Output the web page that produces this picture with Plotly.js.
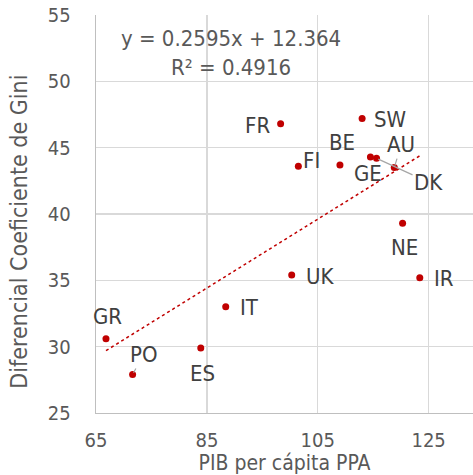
<!DOCTYPE html>
<html>
<head>
<meta charset="utf-8">
<script src="https://cdn.plot.ly/plotly-3.0.1.min.js"></script>
<style>html,body{margin:0;padding:0;background:#fff;}</style>
</head>
<body>
<div id="chart" style="width:473px;height:475px;"></div>
<script>
// ---- data ----
const countries = ['FR', 'SW', 'FI', 'BE', 'GE', 'DK', 'AU', 'NE', 'UK', 'IR', 'IT', 'GR', 'PO', 'ES'];
const pibPPA   = [98.3, 113.0, 101.5, 109.0, 114.5, 115.6, 118.8, 120.3, 100.3, 123.4, 88.4, 66.8, 71.6, 83.9];
const giniDiff = [46.8, 47.2, 43.6, 43.7, 44.3, 44.2, 43.5, 39.3, 35.4, 35.2, 33.0, 30.6, 27.9, 29.9];
const trendSlope = 0.2595;
const trendIntercept = 12.364;
const trendR2 = 0.4916;
const xTicks = [65, 85, 105, 125];
const yTicks = [25, 30, 35, 40, 45, 50, 55];
const xTitle = 'PIB per cápita PPA';
const yTitle = 'Diferencial Coeficiente de Gini';

// ---- label placement (pixel offsets from the point; styling only) ----
const labelPos = {
  FR: {dx: -23, dy: 2},  SW: {dx: 28, dy: 1},  FI: {dx: 13, dy: -6},
  BE: {dx: 2, dy: -22},  GE: {dx: -2, dy: 17}, DK: {dx: 52, dy: 24, leader: true},
  AU: {dx: 7, dy: -23, leader: true},          NE: {dx: 2, dy: 24},
  UK: {dx: 28, dy: 1},   IR: {dx: 24, dy: 1},  IT: {dx: 24, dy: 1},
  GR: {dx: 2, dy: -22},  PO: {dx: 11, dy: -20, leader: true}, ES: {dx: 2, dy: 26}
};

const FONT = 'DejaVu Sans Condensed, DejaVu Sans, sans-serif';
const RED = '#C00000';

const xMin = Math.min(...pibPPA), xMax = Math.max(...pibPPA);
const trendX = [xMin, xMax];
const trendY = trendX.map(v => trendSlope * v + trendIntercept);

const traces = [
  {
    x: trendX, y: trendY, type: 'scatter', mode: 'lines',
    line: {color: RED, width: 1.5, dash: 'dot'}, hoverinfo: 'skip'
  },
  {
    x: pibPPA, y: giniDiff, text: countries, type: 'scatter', mode: 'markers',
    marker: {color: RED, size: 7}
  }
];

const annotations = countries.map((c, i) => {
  const p = labelPos[c];
  const a = {
    x: pibPPA[i], y: giniDiff[i], xref: 'x', yref: 'y', text: c,
    font: {family: FONT, size: 22, color: '#404040'}
  };
  if (p.leader) {
    Object.assign(a, {showarrow: true, ax: p.dx, ay: p.dy, arrowhead: 0,
      arrowwidth: 1.2, arrowcolor: '#a6a6a6', standoff: 2, startstandoff: 0});
  } else {
    Object.assign(a, {showarrow: false, xshift: p.dx, yshift: -p.dy,
      xanchor: 'center', yanchor: 'middle'});
  }
  return a;
});

annotations.push({
  x: 89.4, y: 52.1, xref: 'x', yref: 'y', showarrow: false,
  text: 'y = ' + trendSlope + 'x + ' + trendIntercept + '<br>R² = ' + trendR2,
  font: {family: FONT, size: 22, color: '#595959'}, xanchor: 'center', yanchor: 'middle'
});

annotations.push({
  x: -0.205, y: 0.455, xref: 'paper', yref: 'paper', showarrow: false,
  text: yTitle, textangle: -90,
  font: {family: FONT, size: 23, color: '#595959'}, xanchor: 'center', yanchor: 'middle'
});

const layout = {
  width: 473, height: 475,
  margin: {l: 96, r: 0, t: 15, b: 62},
  paper_bgcolor: '#fff', plot_bgcolor: '#fff',
  showlegend: false,
  font: {family: FONT, color: '#595959'},
  xaxis: {
    range: [65, 133], tickvals: xTicks, ticktext: xTicks.map(String),
    showgrid: true, gridcolor: '#d9d9d9', gridwidth: 1.3,
    showline: true, linecolor: '#bfbfbf', linewidth: 1.3,
    zeroline: false, ticks: '', ticklabelstandoff: 9,
    tickfont: {family: FONT, size: 20, color: '#595959'},
    title: {text: xTitle, font: {family: FONT, size: 21, color: '#595959'}, standoff: 7}
  },
  yaxis: {
    range: [25, 55], tickvals: yTicks, ticktext: yTicks.map(String),
    showgrid: true, gridcolor: '#d9d9d9', gridwidth: 1.3,
    showline: true, linecolor: '#bfbfbf', linewidth: 1.3,
    zeroline: false, ticks: '', ticklabelstandoff: 20,
    tickfont: {family: FONT, size: 20, color: '#595959'}
  },
  annotations: annotations
};

Plotly.newPlot('chart', traces, layout, {displayModeBar: false, staticPlot: true});
</script>
</body>
</html>
